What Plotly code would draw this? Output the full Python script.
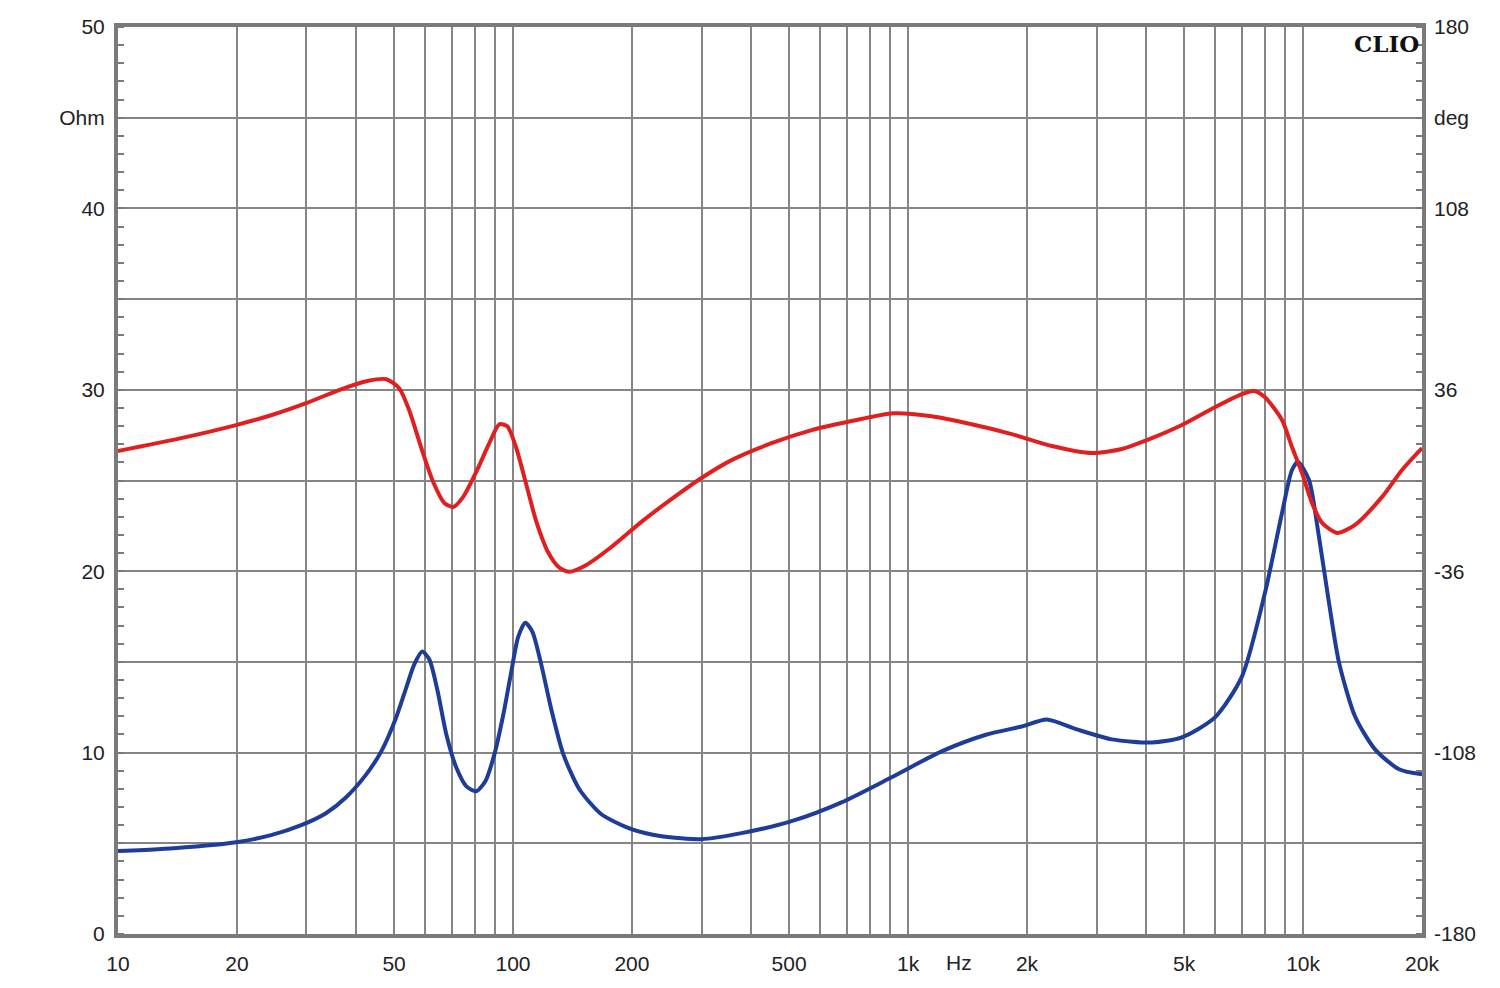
import plotly.graph_objects as go

# Impedance magnitude (Ohm), left axis
mag_freq = [10, 12.85, 19.9, 24.4, 29.1, 33.6, 37.8, 42.5, 46.4, 50.6, 53.7, 56.2, 58.9, 61.4,
            64.3, 67.8, 71.8, 76.2, 80.7, 85.1, 89.7, 94.5, 99.0, 103.1, 107.4, 111.9, 117.9,
            125.0, 134.1, 147.2, 167.4, 199.4, 237.6, 299.9, 378.8, 507.1, 678.9, 908.6, 1216,
            1582, 1940, 2245, 2675, 3280, 4142, 4934, 5982, 7000, 8008, 8844, 9374, 9707, 10350,
            10970, 11630, 12330, 13540, 15210, 17500, 20000]
mag_ohm = [4.57, 4.68, 5.06, 5.45, 6.0, 6.66, 7.54, 8.8, 10.07, 11.94, 13.6, 14.85, 15.57, 15.13,
           13.48, 11.0, 9.19, 8.14, 7.87, 8.42, 9.9, 12.1, 14.47, 16.39, 17.16, 16.67, 14.85,
           12.38, 9.9, 7.98, 6.6, 5.78, 5.39, 5.23, 5.56, 6.22, 7.26, 8.64, 10.07,
           11.0, 11.44, 11.83, 11.28, 10.73, 10.56, 10.84, 11.94, 14.19, 18.81, 23.21, 25.58, 26.02, 25.03,
           21.89, 18.26, 14.96, 11.99, 10.18, 9.08, 8.8]

# Phase (deg), right axis
ph_freq = [10, 14.44, 19.9, 24.4, 29.95, 36.7, 42.5, 47.8, 51.5, 54.6, 58.6, 62.8, 67.0, 70.6,
           74.8, 80.7, 87.1, 92.3, 96.7, 101.9, 108.1, 114.6, 122.9, 131.0, 138.9, 153.4, 177.4,
           211.4, 256.3, 299.9, 357.5, 451.2, 570.0, 719.6, 919.3, 1147, 1449, 1830, 2311, 2919,
           3477, 4142, 4934, 5982, 7000, 7509, 8008, 8844, 9374, 9936, 10530, 11170, 12190, 13540,
           15850, 17800, 20000]
ph_deg = [11.7, 16.8, 22.0, 25.9, 30.7, 36.2, 39.4, 40.2, 36.6, 27.9, 12.9, -0.6, -8.9, -10.5,
          -6.5, 3.4, 14.8, 22.3, 21.5, 12.9, -1.8, -16.4, -28.7, -34.6, -36.2, -33.5, -26.4,
          -16.4, -6.5, 1.0, 8.1, 14.8, 20.0, 23.6, 26.7, 25.5, 22.3, 18.4, 13.7, 10.9,
          12.5, 16.8, 22.0, 29.1, 34.3, 35.5, 33.0, 24.0, 13.3, 3.0, -8.9, -16.8, -20.8, -17.6,
          -6.5, 4.2, 12.9]

x_tickvals = [10, 20, 30, 40, 50, 60, 70, 80, 90, 100, 200, 300, 400, 500, 600, 700, 800, 900,
              1000, 2000, 3000, 4000, 5000, 6000, 7000, 8000, 9000, 10000, 20000]
x_labels = {10: "10", 20: "20", 50: "50", 100: "100", 200: "200", 500: "500", 1000: "1k",
            2000: "2k", 5000: "5k", 10000: "10k", 20000: "20k"}
y_tickvals = [0, 5, 10, 15, 20, 25, 30, 35, 40, 45, 50]
y_labels = {0: "0", 10: "10", 20: "20", 30: "30", 40: "40", 45: "Ohm", 50: "50"}
y2_tickvals = [-180, -108, -36, 36, 108, 144, 180]
y2_ticktext = ["-180", "-108", "-36", "36", "108", "deg", "180"]

GRID = "#858585"
FRAME = "#7a7a7a"
FONT = dict(family="Liberation Sans, Arial, sans-serif", size=21, color="#222222")

fig = go.Figure()
fig.add_trace(go.Scatter(x=ph_freq, y=ph_deg, mode="lines", yaxis="y2",
                         line=dict(color="#e02020", width=4, shape="spline", smoothing=0.7),
                         showlegend=False))
fig.add_trace(go.Scatter(x=mag_freq, y=mag_ohm, mode="lines",
                         line=dict(color="#1e3c98", width=4, shape="spline", smoothing=0.7),
                         showlegend=False))

fig.update_layout(
    width=1500, height=988,
    margin=dict(l=110, r=86, t=19, b=62),
    paper_bgcolor="white", plot_bgcolor="white",
    font=FONT,
    xaxis=dict(type="log", range=[1, 4.30103], tickmode="array", tickvals=x_tickvals,
               ticktext=[x_labels.get(v, "") for v in x_tickvals],
               showgrid=True, gridcolor=GRID, gridwidth=1.5, automargin=False,
               showline=True, linecolor=FRAME, linewidth=4, mirror=True,
               ticks="", ticklabelstandoff=8, zeroline=False),
    yaxis=dict(range=[0, 50], tickmode="array", tickvals=y_tickvals,
               ticktext=[y_labels.get(v, "") for v in y_tickvals],
               showgrid=True, gridcolor=GRID, gridwidth=1.5, automargin=False,
               showline=True, linecolor=FRAME, linewidth=4, mirror=True,
               ticks="", ticklabelstandoff=5, zeroline=False,
               minor=dict(dtick=1, tick0=0, ticks="inside", ticklen=6, tickcolor=FRAME,
                          tickwidth=2, showgrid=False)),
    yaxis2=dict(range=[-180, 180], overlaying="y", side="right", tickmode="array",
                tickvals=y2_tickvals, ticktext=y2_ticktext, showgrid=False, automargin=False,
                showline=False, ticks="", ticklabelstandoff=11, zeroline=False,
                minor=dict(dtick=7.2, tick0=-180, ticks="inside", ticklen=6, tickcolor=FRAME,
                           tickwidth=2, showgrid=False)),
    annotations=[
        dict(text="Hz", x=3.128, xref="x", y=0, yref="paper", yshift=-28,
             showarrow=False, font=FONT, yanchor="middle"),
        dict(text="<b>CLIO</b>", x=1, xref="paper", y=1, yref="paper", xanchor="right",
             yanchor="top", xshift=-1, yshift=-1, showarrow=False,
             font=dict(family="DejaVu Serif, Liberation Serif, serif", size=23, color="#111111")),
    ],
)

fig.write_html("out.html")
